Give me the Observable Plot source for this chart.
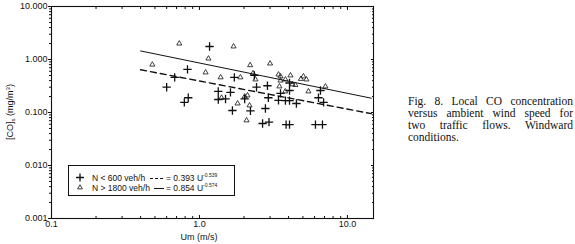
<!DOCTYPE html>
<html>
<head>
<meta charset="utf-8">
<script src="https://cdn.jsdelivr.net/npm/d3@7"></script>
<script src="https://cdn.jsdelivr.net/npm/@observablehq/plot@0.6"></script>
<style>
  html, body { margin: 0; padding: 0; background: #fff; }
  #wrap { position: relative; width: 575px; height: 244px; }
  #caption { position: absolute; left: 408px; top: 95px; width: 165px;
    font-family: "Liberation Serif", "Times New Roman", serif; font-size: 11.5px; line-height: 12px; color: #111; }
  #caption div { text-align: justify; text-align-last: justify; white-space: nowrap; }
  #caption div.last { text-align-last: left; }
</style>
</head>
<body>
<div id="wrap">
  <div id="chart"></div>
  <div id="caption">
    <div>Fig. 8. Local CO concentration</div>
    <div>versus ambient wind speed for</div>
    <div>two&nbsp; traffic&nbsp; flows.&nbsp; Windward</div>
    <div class="last">conditions.</div>
  </div>
</div>
<script>
// N < 600 veh/h (plus markers)
const lowU = [0.83, 0.68, 0.60, 0.84, 0.79, 1.17, 1.72, 1.34, 1.62, 2.02, 1.34, 1.50, 1.67, 2.21, 2.35, 2.43, 2.88, 2.92, 2.79, 2.67, 2.95, 4.06, 4.06, 3.53, 3.42, 3.81, 4.06, 4.52, 6.37, 6.9, 6.57, 3.85, 4.06, 6.08, 6.78];
const lowCO = [0.65, 0.46, 0.30, 0.19, 0.155, 1.76, 0.46, 0.25, 0.24, 0.18, 0.176, 0.18, 0.109, 0.107, 0.50, 0.30, 0.32, 0.19, 0.119, 0.062, 0.066, 0.26, 0.36, 0.23, 0.17, 0.168, 0.168, 0.148, 0.19, 0.155, 0.26, 0.059, 0.059, 0.059, 0.059];
// N > 1800 veh/h (triangle markers)
const highU = [0.48, 0.73, 1.10, 1.15, 1.70, 1.39, 1.89, 2.2, 2.3, 2.39, 2.11, 2.02, 1.41, 1.81, 2.18, 2.08, 3.0, 3.42, 3.53, 4.12, 3.81, 4.85, 5.04, 5.28, 3.47, 4.25, 4.45, 5.45, 7.1, 3.53, 3.8];
const highCO = [0.80, 2.00, 0.57, 1.04, 1.76, 0.46, 0.46, 0.78, 0.55, 0.42, 0.21, 0.20, 0.19, 0.148, 0.136, 0.071, 0.84, 0.52, 0.48, 0.50, 0.42, 0.43, 0.48, 0.42, 0.31, 0.34, 0.33, 0.25, 0.31, 0.40, 0.25];
// fitted power-law lines, endpoints
const fitU = [0.4, 14.5];
const fitLowCO = [0.64, 0.095];
const fitHighCO = [1.45, 0.186];
// axis ticks
const xMajor = [0.1, 1, 10];
const xMajorLabels = ["0.1", "1.0", "10.0"];
const yMajor = [0.001, 0.01, 0.1, 1, 10];
const yMajorLabels = ["0.001", "0.010", "0.100", "1.000", "10.000"];
const minorMult = [2, 3, 4, 5, 6, 7, 8, 9];

const xMinor = [0.1, 1, 10].flatMap(d => minorMult.map(m => d * m)).filter(v => v <= 15);
const yMinor = [0.001, 0.01, 0.1, 1].flatMap(d => minorMult.map(m => d * m));

const low = lowU.map((u, i) => ({u, co: lowCO[i]}));
const high = highU.map((u, i) => ({u, co: highCO[i]}));
const fitLow = fitU.map((u, i) => ({u, co: fitLowCO[i]}));
const fitHigh = fitU.map((u, i) => ({u, co: fitHighCO[i]}));

const font = "'Liberation Sans', Arial, sans-serif";
const noText = () => "";

const chart = Plot.plot({
  width: 575,
  height: 244,
  marginLeft: 51,
  marginRight: 202,
  marginTop: 6,
  marginBottom: 26,
  style: {fontFamily: font, fontSize: "9px", color: "#111", background: "white"},
  x: {type: "log", domain: [0.1, 15]},
  y: {type: "log", domain: [0.001, 10]},
  marks: [
    // left axis: outward ticks
    Plot.axisY({anchor: "left", ticks: yMajor, tickSize: 3, tickPadding: 1, tickFormat: d => yMajorLabels[yMajor.indexOf(d)], label: null, fontSize: 9}),
    Plot.axisY({anchor: "left", ticks: yMinor, tickSize: 2, tickFormat: noText, label: null}),
    // right axis: inward ticks
    Plot.axisY({anchor: "right", ticks: yMajor, tickSize: -3, tickFormat: noText, label: null}),
    Plot.axisY({anchor: "right", ticks: yMinor, tickSize: -2, tickFormat: noText, label: null}),
    // bottom axis: inward ticks
    Plot.axisX({anchor: "bottom", ticks: xMajor, tickSize: 0, tickPadding: 2, tickFormat: d => xMajorLabels[xMajor.indexOf(d)], label: null, fontSize: 9}),
    Plot.axisX({anchor: "bottom", ticks: xMajor, tickSize: -3, tickFormat: noText, label: null}),
    Plot.axisX({anchor: "bottom", ticks: xMinor, tickSize: -2, tickFormat: noText, label: null}),
    // top axis: inward ticks
    Plot.axisX({anchor: "top", ticks: xMajor, tickSize: -3, tickFormat: noText, label: null}),
    Plot.axisX({anchor: "top", ticks: xMinor, tickSize: -2, tickFormat: noText, label: null}),
    Plot.frame({stroke: "#111", strokeWidth: 1.1}),
    Plot.line(fitHigh, {x: "u", y: "co", stroke: "#111", strokeWidth: 1}),
    Plot.line(fitLow, {x: "u", y: "co", stroke: "#111", strokeWidth: 1.4, strokeDasharray: "6,4"}),
    Plot.dot(low, {x: "u", y: "co", symbol: "plus", r: 2.8, stroke: "#111", strokeWidth: 1.3}),
    Plot.dot(high, {x: "u", y: "co", symbol: "triangle", r: 1.9, fill: "none", stroke: "#111", strokeWidth: 0.8})
  ]
});
document.getElementById("chart").appendChild(chart);

// axis titles and legend
const svg = d3.select(chart);
svg.append("text")
  .attr("transform", "translate(11,112) rotate(-90)")
  .attr("text-anchor", "middle").attr("dominant-baseline", "middle")
  .attr("font-family", font).attr("font-size", 9).attr("fill", "#111")
  .call(t => {
    t.append("tspan").text("[CO]");
    t.append("tspan").attr("font-size", 6).attr("dy", 2).text("s");
    t.append("tspan").attr("dy", -2).text(" (mg/m");
    t.append("tspan").attr("font-size", 6).attr("dy", -3).text("3");
    t.append("tspan").attr("dy", 3).text(")");
  });
svg.append("text")
  .attr("x", 199).attr("y", 240).attr("text-anchor", "middle")
  .attr("font-family", font).attr("font-size", 9).attr("fill", "#111")
  .text("Um (m/s)");

const lg = svg.append("g").attr("font-family", font).attr("font-size", 8.5).attr("fill", "#111").attr("text-anchor", "start");
lg.append("rect").attr("x", 68.5).attr("y", 165.5).attr("width", 166).attr("height", 30)
  .attr("fill", "white").attr("stroke", "#111").attr("stroke-width", 1);
const rows = [
  {sym: d3.symbolPlus, size: 22, label: "N < 600 veh/h", dash: "3,2", eq: "= 0.393 U", exp: "-0.539", y: 178, lx0: 150, sw: 1.3},
  {sym: d3.symbolTriangle, size: 10, label: "N > 1800 veh/h", dash: null, eq: "= 0.854 U", exp: "-0.574", y: 188, lx0: 154, sw: 0.8}
];
rows.forEach(r => {
  lg.append("path").attr("d", d3.symbol(r.sym, r.size)())
    .attr("transform", `translate(80,${r.y - 0.5})`)
    .attr("fill", "none").attr("stroke", "#111").attr("stroke-width", r.sw);
  lg.append("text").attr("x", 92).attr("y", r.y + 3).text(r.label);
  lg.append("line").attr("x1", r.lx0).attr("x2", 164).attr("y1", r.y + 0.5).attr("y2", r.y + 0.5)
    .attr("stroke", "#111").attr("stroke-width", 1).attr("stroke-dasharray", r.dash);
  const t = lg.append("text").attr("x", 166).attr("y", r.y + 3);
  t.append("tspan").text(r.eq);
  t.append("tspan").attr("font-size", 5).attr("dy", -4).text(r.exp);
});
</script>
</body>
</html>
